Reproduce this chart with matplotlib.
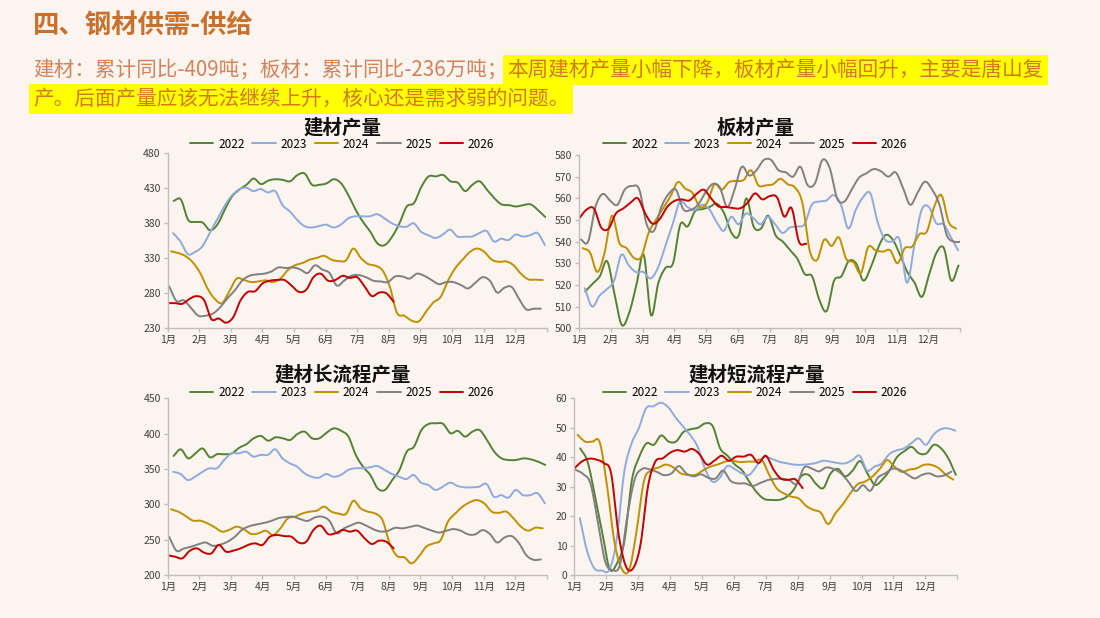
import numpy as np
import matplotlib
matplotlib.use('Agg')
import matplotlib.pyplot as plt

plt.rcParams['font.family'] = ['Noto Sans CJK SC', 'DejaVu Sans']

# ---------------- data ----------------
years = ['2022', '2023', '2024', '2025', '2026']
month_labels = [f'{m}月' for m in range(1, 13)]

# 建材产量 (weekly)
jc_2022 = [412,414,385,382,381,370,378,399,418,428,435,444,436,441,443,442,440,449,451,435,
           435,437,443,437,420,399,382,368,351,349,361,380,404,409,432,447,447,449,440,438,
           426,435,440,428,416,407,406,404,406,407,399,389]
jc_2023 = [366,354,336,339,347,366,385,404,419,428,431,426,429,424,426,406,397,385,376,374,
           376,378,374,378,387,390,390,390,393,387,380,376,375,380,368,363,359,364,371,361,
           361,361,366,369,354,358,356,364,361,363,366,349]
jc_2024 = [340,337.5,333,324,309,287,272,266,283,301,299,296,297,298.5,296,301,313,320,323,328,
           330.5,333.5,328,326,327,344,331,322,319.5,313,290,252,248,241,240,254,267,275,298,316,
           328,339,344,339,328,325,325.5,320,308,300,299.5,299]
jc_2025 = [290,269,270,259,248,248,251,260,273,284,298,305,307,308,311,317,316,317,314,309,
           320,314,309,291,298,305,306,303,298,297,296,304,304,301,308,305,299,293,296,296,
           292,287,295,303,298,281,288,289,272,257,258,258]
jc_2026 = [266,266,265,272,276,270,243,244,238,246,270,282,283,294,298,299,299,291,282,285,
           303,308,298,299,305,302,303,290,276,281,280,268]

# 板材产量 (weekly)
bc_2022 = [517,520.5,524,531,516,501.5,507,520,534,506,521,528,530,548,547,554,555,556,557.5,553,
           544,543,560,547,546,552,543,540,536,532,525,524,513,508,522,524,531,530,522,528,
           537,543,541,534,526,521,514.5,525,535,537,522,529]
bc_2023 = [518.5,510,515,518,522,534,529,526,526,523,528,538,548,558.5,556,554.5,557,555,549,545,
           551.5,548,553,551,548,551.5,548,544,546.5,547,548,557,558.5,559,561.5,557,546,554.6,560.5,562.3,
           549,541,540,541,521,538,554.6,556,548.5,548,542,536]
bc_2024 = [537,535,526,535,552,539.5,537,532.5,533,544,550,555.5,561,567.5,564.5,562.5,556,558,566.5,564,
           567.5,568,568.5,573,566,566,566.5,569,566.5,565,558,536,531.5,541,538,542,532,530.5,525.5,537.5,
           536,535.4,536,530,537,537.7,543.5,544.6,556,561.5,549,546]
bc_2025 = [541,540,556,562,559,557,564,565.7,564,548,545,556,562,564,555,554.6,557,562.5,566.6,565,
           556,564,574.6,570.5,573,577.7,577.7,573,572,570,574.6,566,567,577.7,574,560,558.5,564,569.5,571.5,
           573.5,572.5,570,572,565,557,562.5,567.7,564,557,543,540,540]
bc_2026 = [550.8,554.8,555.3,546.5,546,553,555.3,558,560,553,548.3,550.5,556,558.8,559.5,559,562,564,560,556.3,
           556,555.5,555.4,558,562.3,559.5,561,560.5,551.5,555.5,540,539]

# 建材长流程产量 (weekly)
cl_2022 = [368.4,377.8,365,372,379,366.5,371,370.8,372,380,385,393.4,396.7,390,394.8,393.4,391,399.5,402.8,393.4,
           393.4,401.4,407.5,404,395.8,369.8,353.3,341.5,322.6,320.3,334.4,348.6,374.5,381.6,405,413.7,414.6,413.7,400.5,404,
           395.8,402.8,405,391,374.5,365,362.7,362.7,365,363.7,360.4,355.7]
cl_2023 = [346,343,334.4,339,346,351,351,362.7,372,372,374.5,367.5,370,370,377.8,365,358,353.3,344,339,
           337.7,342.9,339,341.5,348.6,351,351,352.4,354.2,348.6,343,339,335.8,341.5,330.7,327.4,320.3,325,330.7,326,
           324,324,325,328.8,310.8,313,309.4,320.3,313,313,315.6,301.4]
cl_2024 = [293,289.6,283.5,276.9,276.9,273,267.5,261.3,264,268.4,264.6,258,259,262.7,256.6,266,280,282.5,287,289.6,
           291,296.7,289.6,287,286.3,305,294.3,289.6,287,277.8,244.8,226.9,225,216.5,226,240,244.8,249.5,275.5,287,
           296.7,303,306,301,289.6,288,289.6,280,268.4,262.7,267,266]
cl_2025 = [254,234.4,237.5,240,243.5,246,241.3,243,247,254,264,269,271.5,273.5,276.5,280.5,282,282.5,279,276.5,
           281.5,282.5,276.5,259,266,270.5,274,270,264.8,261.5,262.5,266.8,266,268,270,266.5,263,260,262.5,265,
           262.7,257.5,257.5,263.5,258,246,253,255,245,228,221.5,222]
cl_2026 = [228,226,223.6,234,237.7,231.6,230.7,242.5,233,234.4,237.7,242.5,244.8,242.5,254,256.6,255,254,245.7,247,
           263.7,269.8,258,259,263.7,261.3,262.7,252,243.9,248.6,247,237.7]

# 建材短流程产量 (weekly)
cd_2022 = [43,38.5,27,14.5,2,4,11.5,32,40,44.7,44.2,47.4,45.3,45.3,48.5,49.5,50,51.5,50.5,43,
           40.5,37.5,35.5,31.5,28,25.8,25.5,25.5,26.5,29,33.5,34,31,29.5,34.5,36,33.5,35.5,38.7,34.5,
           30.6,32.3,35.5,40,42,43.5,41.3,41.3,44.2,43,39.5,34]
cd_2023 = [19.3,8,2.2,1.5,1.8,12,34.5,44.5,49.8,56.6,57.3,58.5,57,53.5,50.5,47.5,43.5,36,31.7,33,
           37,36,34.5,34,37,40,39.5,38.5,38,37.5,37.4,37.6,38,38.8,38.5,38,37.9,39,40.5,35.5,
           36.8,37.9,41,42.3,43,44.7,46.4,44.2,47.6,49.5,49.8,49]
cd_2024 = [47.6,45.3,45.3,45,30,11,2,1.8,15,32,35.5,36.5,37.5,36.5,34.5,34,34,35.5,36.8,37.5,
           38.5,38.8,38.3,38.5,38.5,39,34,29.5,27.7,26.6,26,23.5,22.1,21.2,17.3,21,24,27.7,30.8,31.7,
           33.4,36,39,36.8,35,35.8,36.2,37.4,37.4,36.3,34,32.4]
cd_2025 = [35.7,34.3,31,18,4.5,1.7,3.5,20,32.5,36,35.9,35,33.9,34.5,37,34.5,33.5,34.2,33,32.8,
           35.5,32,31.1,31.1,30.2,31.2,32.2,32.6,32.7,32.2,31,36.5,36.2,35.2,36.5,36,34.5,31.7,28.5,30.5,
           28.6,33,34.5,36.1,35.7,34.2,32.8,34,34.5,33.5,33.8,35.1]
cd_2026 = [36.2,38.5,39.5,39.2,38,34.5,14,3,2.3,10.5,30,38.5,39.6,41.5,42.4,41.9,42.8,41,37.5,38.8,
           40.5,38.8,40.2,40.2,40.8,38,40.5,36,32.8,32.3,32.5,29.5]

title_text = '四、钢材供需-供给'
sub_plain = '建材：累计同比-409吨；板材：累计同比-236万吨；'
sub_high1 = '本周建材产量小幅下降，板材产量小幅回升，主要是唐山复'
sub_high2 = '产。后面产量应该无法继续上升，核心还是需求弱的问题。'

# ---------------- style ----------------
W, H = 1100, 618
BG = '#FBF4EF'
colors = ['#548235', '#8FAADC', '#C09000', '#808080', '#C00000']
week_offset = [0.8, 0.75, 0.46, 0.2, 0.0]   # first-week position (in weeks) within January


def smooth(x, y, k=8):
    P = np.column_stack([np.asarray(x, float), np.asarray(y, float)])
    P = np.vstack([2 * P[0] - P[1], P, 2 * P[-1] - P[-2]])
    t = np.linspace(0, 1, k, endpoint=False)[:, None]
    out = []
    for i in range(1, len(P) - 2):
        p0, p1, p2, p3 = P[i - 1], P[i], P[i + 1], P[i + 2]
        pts = 0.5 * ((2 * p1) + (-p0 + p2) * t + (2 * p0 - 5 * p1 + 4 * p2 - p3) * t ** 2
                     + (-p0 + 3 * p1 - 3 * p2 + p3) * t ** 3)
        out.append(pts)
    out.append(P[-2][None, :])
    a = np.vstack(out)
    return a[:, 0], a[:, 1]


def px_rect(l, t, r, b):
    return [l / W, 1 - b / H, (r - l) / W, (b - t) / H]


charts = [
    dict(title='建材产量', data=[jc_2022, jc_2023, jc_2024, jc_2025, jc_2026], ylim=(230, 480), step=50,
         rect=px_rect(167.7, 153.3, 546.7, 328.3), tx=343, ty=128, lx=342, ly=144),
    dict(title='板材产量', data=[bc_2022, bc_2023, bc_2024, bc_2025, bc_2026], ylim=(500, 580), step=10,
         rect=px_rect(579.3, 155, 960, 328.3), tx=756, ty=128, lx=755, ly=144),
    dict(title='建材长流程产量', data=[cl_2022, cl_2023, cl_2024, cl_2025, cl_2026], ylim=(200, 450), step=50,
         rect=px_rect(167.7, 398.3, 546.7, 575), tx=343, ty=375, lx=342, ly=393),
    dict(title='建材短流程产量', data=[cd_2022, cd_2023, cd_2024, cd_2025, cd_2026], ylim=(0, 60), step=10,
         rect=px_rect(574.3, 398.3, 957.3, 575), tx=757, ty=375, lx=755, ly=393),
]

fig = plt.figure(figsize=(W / 100, H / 100), dpi=100, facecolor=BG)

for ch in charts:
    ax = fig.add_axes(ch['rect'])
    ax.set_facecolor('none')
    handles = []
    for yr, vals, c, off in zip(years, ch['data'], colors, week_offset):
        x = (off + np.arange(len(vals))) * 12 / 52
        xs, ys = smooth(x, vals)
        h, = ax.plot(xs, ys, color=c, lw=1.4, label=yr, solid_capstyle='round')
        handles.append(h)
    ax.set_xlim(0, 12)
    ax.set_ylim(*ch['ylim'])
    ax.set_xticks(np.arange(0, 13))
    ax.set_xticklabels(month_labels + [''])
    ax.set_yticks(np.arange(ch['ylim'][0], ch['ylim'][1] + 1, ch['step']))
    for s in ['top', 'right']:
        ax.spines[s].set_visible(False)
    for s in ['left', 'bottom']:
        ax.spines[s].set_color('#BFBFBF')
        ax.spines[s].set_linewidth(1.0)
    ax.tick_params(axis='both', colors='#BFBFBF', labelcolor='#404040', labelsize=7.5,
                   length=3, width=1, direction='out', pad=2)
    fig.text(ch['tx'] / W, 1 - ch['ty'] / H, ch['title'], ha='center', va='center',
             fontsize=14, fontweight='bold', color='#111111')
    ax.legend(handles=handles, loc='center', bbox_to_anchor=(ch['lx'] / W, 1 - ch['ly'] / H),
              bbox_transform=fig.transFigure, ncol=5, frameon=False, fontsize=8.5,
              handlelength=2.0, columnspacing=0.65, handletextpad=0.4, borderpad=0)

# header texts
FS = 14.85
fig.text(33 / W, 1 - 26 / H, title_text, fontsize=19, fontweight='bold', color='#C8712F',
         ha='left', va='center')
t1 = fig.text(33 / W, 1 - 70 / H, sub_plain, fontsize=FS, color='#D4845A', ha='left', va='center')
fig.canvas.draw()
r = fig.canvas.get_renderer()
bb = t1.get_window_extent(r)
fig.text(bb.x1 / W, 1 - 70 / H, sub_high1, fontsize=FS, color='#D4791F', ha='left', va='center',
         bbox=dict(boxstyle='square,pad=0.2', facecolor='#FFFF00', edgecolor='none'))
fig.text(33 / W, 1 - 99 / H, sub_high2, fontsize=FS, color='#D4791F', ha='left', va='center',
         bbox=dict(boxstyle='square,pad=0.2', facecolor='#FFFF00', edgecolor='none'))

fig.savefig('out.png', dpi=100, facecolor=BG)
